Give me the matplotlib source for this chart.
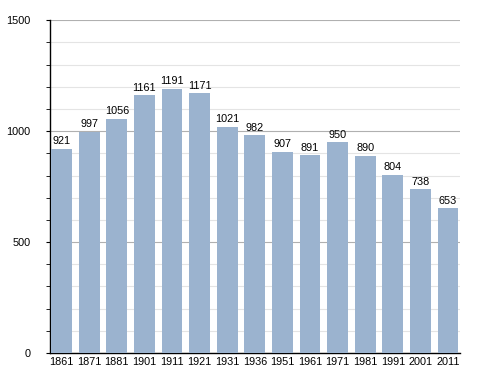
import matplotlib.pyplot as plt
from matplotlib.ticker import MultipleLocator

years = ['1861', '1871', '1881', '1901', '1911', '1921', '1931', '1936',
         '1951', '1961', '1971', '1981', '1991', '2001', '2011']
population = [921, 997, 1056, 1161, 1191, 1171, 1021, 982,
              907, 891, 950, 890, 804, 738, 653]

plt.rcParams['font.family'] = ['Liberation Sans', 'DejaVu Sans']

fig = plt.figure(figsize=(4.88, 3.73), dpi=100)
ax = fig.add_axes([0.1025, 0.0536, 0.841, 0.892])

x = range(len(years))
ax.bar(x, population, width=0.76, color='#9bb3cf', zorder=3)

for xi, v in zip(x, population):
    ax.text(xi, v + 12, str(v), ha='center', va='bottom', fontsize=7.8, zorder=4)

ax.set_xlim(-0.42, 14.45)
ax.set_ylim(0, 1500)
ax.yaxis.set_major_locator(MultipleLocator(500))
ax.yaxis.set_minor_locator(MultipleLocator(100))
ax.grid(axis='y', which='major', color='#b0b0b0', linewidth=0.8, zorder=0)
ax.grid(axis='y', which='minor', color='#e4e4e4', linewidth=0.8, zorder=0)

ax.set_xticks(list(x))
ax.set_xticklabels(years)
ax.tick_params(axis='x', length=0, labelsize=7.8, pad=3)
ax.tick_params(axis='y', which='both', length=3, labelsize=7.8, pad=11)

for s in ['top', 'right']:
    ax.spines[s].set_visible(False)
ax.spines['left'].set_linewidth(1)
ax.spines['bottom'].set_linewidth(1)

fig.savefig('out.png', dpi=100)
